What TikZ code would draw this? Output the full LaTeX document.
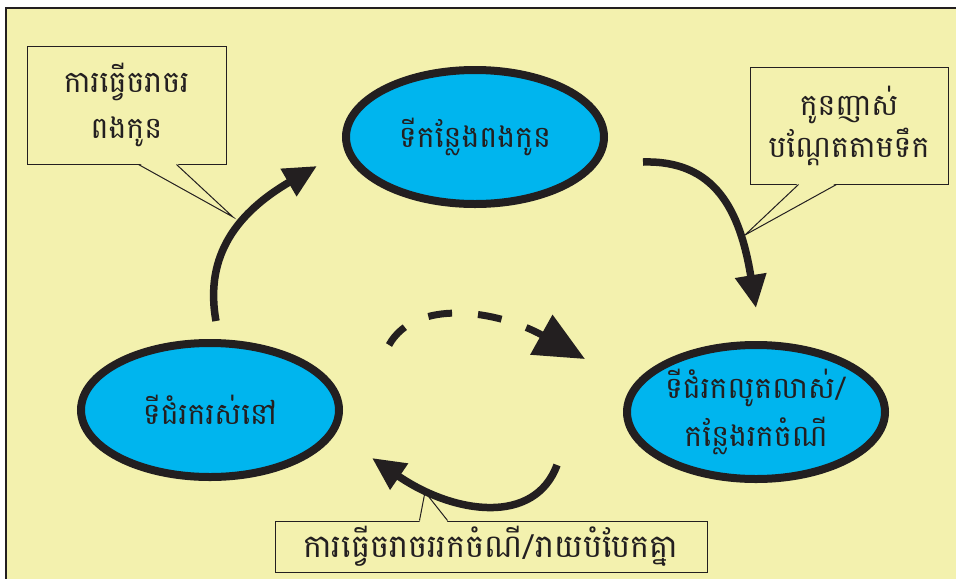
\documentclass[tikz,border=0pt]{standalone}
\usepackage{fontspec}
\newfontfamily\khmer[Script=Khmer]{Battambang}
\usetikzlibrary{arrows.meta, positioning, calc, shapes.geometric}
\definecolor{bgyellow}{HTML}{F3F1AE}
\definecolor{fishblue}{HTML}{00B5EE}
\definecolor{inkdark}{HTML}{231F20}

\begin{document}
\begin{tikzpicture}[x=1pt, y=-1pt,
	stage/.style={ellipse, draw=inkdark, line width=8pt, fill=fishblue, text=inkdark,
		minimum width=258pt, minimum height=134pt, inner sep=0pt, align=center,
		font=\khmer\fontsize{30}{48}\selectfont},
	note/.style={rectangle, draw=inkdark, line width=1pt, fill=bgyellow, text=inkdark,
		inner sep=0pt, align=center, font=\khmer\fontsize{30}{46}\selectfont},
	flow/.style={line width=7.5pt, draw=inkdark, -{Triangle[length=33pt,width=30pt]}},
	]
	% Frame
	\useasboundingbox (0,0) rectangle (956,579);
	\fill[bgyellow] (6,8) rectangle (956,579);
	\draw[inkdark, line width=2pt] (956,8) -- (6,8) -- (6,579);
	
	% Stages
	\node[stage] (spawn) at (475,137) {ទីកន្លែងពងកូន};
	\node[stage] (habitat) at (210,410) {ទីជំរករស់នៅ};
	\node[stage] (feeding) at (756,412) {ទីជំរកលូតលាស់/\\កន្លែងរកចំណី};
	
	% Notes
	\node[note, minimum width=199pt, minimum height=118pt] (breednote) at (126.5,105) {ការធ្វើចរាចរ\\ពងកូន};
	\node[note, minimum width=198pt, minimum height=117pt, font=\khmer\fontsize{30}{42}\selectfont] (driftnote) at (849,125.5) {កូនញាស់\\បណ្តែតតាមទឹក};
	\node[note, minimum width=432pt, minimum height=51pt, font=\khmer\fontsize{32}{40}\selectfont] (feednote) at (491,546.5) {ការធ្វើចរាចររកចំណី/រាយបំបែកគ្នា};
	
	% Note pointers
	\coordinate (breedtip) at (233,217);
	\coordinate (drifttip) at (745,235);
	\coordinate (feedtip) at (425,492);
	\fill[bgyellow] ($(breednote.south west)+(112,-1.5)$) -- (breedtip) -- ($(breednote.south west)+(150,-1.5)$) -- cycle;
	\draw[inkdark, line width=1pt] ($(breednote.south west)+(112,0)$) -- (breedtip) -- ($(breednote.south west)+(150,0)$);
	\fill[bgyellow] ($(driftnote.south west)+(49,-1.5)$) -- (drifttip) -- ($(driftnote.south west)+(87,-1.5)$) -- cycle;
	\draw[inkdark, line width=1pt] ($(driftnote.south west)+(49,0)$) -- (drifttip) -- ($(driftnote.south west)+(87,0)$);
	\fill[bgyellow] ($(feednote.north west)+(145,1.5)$) -- (feedtip) -- ($(feednote.north west)+(173,1.5)$) -- cycle;
	\draw[inkdark, line width=1pt] ($(feednote.north west)+(145,0)$) -- (feedtip) -- ($(feednote.north west)+(173,0)$);
	
	% Cycle arrows
	\coordinate (upstart) at (216,321);
	\coordinate (upend) at (317,166);
	\coordinate (downstart) at (643,162);
	\coordinate (downend) at (756,308);
	\coordinate (backstart) at (557,465);
	\coordinate (backend) at (372,458);
	\coordinate (skipstart) at (389,345);
	\coordinate (skipend) at (585,359);
	\draw[flow] (upstart) .. controls (204,255) and (238,212) .. (upend);
	\draw[flow] (downstart) .. controls (715,160) and (740,210) .. (downend);
	\draw[flow] (backstart) .. controls (535,525) and (455,515) .. (backend);
	\draw[line width=7pt, draw=inkdark, dash pattern=on 24pt off 26pt, -{Triangle[length=50pt,width=44pt]}]
		(skipstart) .. controls (415,298) and (497,310) .. (skipend);
\end{tikzpicture}
\end{document}
